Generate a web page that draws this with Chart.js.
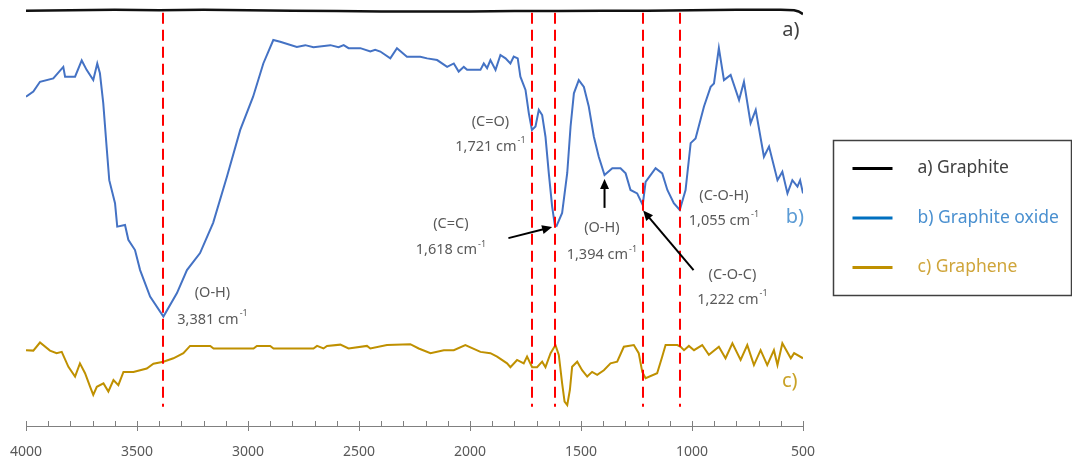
<!DOCTYPE html>
<html>
<head>
<meta charset="utf-8">
<title>FTIR spectra</title>
<script src="https://cdn.jsdelivr.net/npm/chart.js@4.4.0/dist/chart.umd.min.js"></script>
<style>
  html, body { margin: 0; padding: 0; background: #fff; }
  #wrap { width: 1072px; height: 462px; position: relative; }
</style>
</head>
<body>
<div id="wrap"><canvas id="ftirChart"></canvas></div>
<script>
// wavenumber (cm-1) / transmittance (a.u., stacked offsets)
const graphiteWn = [4000, 3800, 3600, 3400, 3200, 3000, 2800, 2600, 2400, 2200, 2000, 1800, 1600, 1400, 1200, 1000, 800, 600, 540, 520, 500];
const graphiteT = [97.5, 97.6, 97.7, 97.6, 97.7, 97.6, 97.5, 97.4, 97.3, 97.3, 97.3, 97.4, 97.4, 97.5, 97.5, 97.6, 97.7, 97.7, 97.6, 97.3, 96.7];

const oxideWn = [4000, 3967, 3937, 3877, 3832, 3824, 3779, 3749, 3727, 3697, 3679, 3667, 3652, 3637, 3625, 3599, 3589, 3554, 3539, 3509,
  3486, 3441, 3381, 3320, 3275, 3216, 3157, 3095, 3035, 2977, 2931, 2886, 2855, 2780, 2742, 2705, 2629, 2592, 2569, 2547,
  2494, 2449, 2427, 2404, 2359, 2329, 2284, 2224, 2193, 2148, 2103, 2073, 2051, 2028, 2013, 1953, 1938, 1923, 1908, 1885,
  1863, 1840, 1818, 1803, 1785, 1773, 1750, 1735, 1721, 1705, 1690, 1675, 1660, 1645, 1630, 1618, 1610,
  1585, 1562, 1547, 1532, 1510, 1487, 1465, 1442, 1420, 1394, 1359, 1322, 1299, 1277, 1247, 1222, 1209, 1164, 1134, 1111,
  1082, 1055, 1029, 1006, 984, 946, 916, 901, 879, 856, 826, 788, 766, 736, 713, 676, 653, 615, 593, 570, 548, 525, 513, 500];
const oxideT = [77.3, 78.5, 80.8, 81.6, 84.3, 82.0, 82.0, 85.8, 83.6, 81.2, 85.1, 82.8, 75.8, 65.6, 57.7, 52.3, 46.8, 47.2, 43.7, 41.3,
  36.6, 30.4, 25.7, 31.2, 36.6, 40.6, 47.7, 58.5, 69.5, 77.3, 85.1, 90.6, 90.2, 89.0, 89.4, 88.9, 89.4, 88.9, 89.4, 88.7,
  88.7, 87.9, 88.3, 87.9, 86.3, 88.7, 86.7, 86.7, 86.3, 85.9, 84.3, 85.1, 83.2, 84.3, 83.6, 83.6, 85.1, 84.0, 85.9, 83.6,
  87.1, 86.3, 85.1, 86.7, 86.3, 82.0, 78.9, 73.4, 69.5, 70.3, 74.2, 73.0, 67.9, 59.3, 51.5, 47.2, 47.0,
  50.0, 59.4, 70.3, 78.1, 81.2, 79.6, 75.0, 67.9, 63.2, 58.9, 60.5, 60.5, 59.3, 55.4, 54.6, 51.9, 57.3, 60.5, 59.3, 55.4,
  52.3, 50.7, 55.4, 66.4, 67.5, 75.0, 79.6, 80.4, 88.7, 81.2, 82.4, 76.5, 80.8, 71.1, 74.2, 63.2, 65.6, 57.7, 59.7, 54.6, 57.7, 56.2, 57.7, 54.6];

const grapheneWn = [4000, 3967, 3937, 3892, 3862, 3839, 3809, 3779, 3757, 3734, 3711, 3697, 3681, 3651, 3629, 3606, 3584, 3561, 3516, 3456,
  3426, 3381, 3336, 3291, 3261, 3170, 3155, 2975, 2960, 2900, 2885, 2705, 2689, 2660, 2644, 2584, 2547, 2464, 2449, 2374,
  2269, 2231, 2178, 2118, 2073, 2021, 1953, 1908, 1878, 1833, 1818, 1788, 1758, 1743, 1720, 1698, 1675, 1660, 1637, 1615,
  1600, 1585, 1574, 1562, 1550, 1540, 1517, 1495, 1472, 1450, 1427, 1397, 1367, 1337, 1307, 1262, 1240, 1224, 1209, 1157,
  1134, 1119, 1066, 1051, 1036, 1014, 991, 954, 924, 879, 849, 818, 781, 751, 721, 691, 661, 631, 615, 593, 555, 540, 500];
const grapheneT = [17.8, 17.7, 19.6, 17.7, 17.1, 17.4, 13.9, 11.6, 14.7, 12.4, 9.2, 7.3, 9.2, 10.0, 8.1, 10.8, 9.6, 12.7, 12.7, 13.5,
  14.6, 15.1, 15.9, 17.1, 18.8, 18.8, 18.2, 18.2, 18.8, 18.8, 18.2, 18.2, 18.8, 18.2, 18.8, 19.1, 18.2, 18.8, 18.2, 19.0,
  19.2, 18.2, 17.1, 17.8, 17.8, 19.0, 17.4, 17.1, 16.3, 14.7, 13.8, 15.5, 14.7, 16.3, 13.8, 13.8, 15.1, 13.8, 17.1, 19.0,
  16.7, 10.0, 5.7, 4.9, 8.5, 13.9, 15.1, 13.1, 11.6, 12.7, 12.0, 13.1, 14.7, 15.1, 18.6, 19.0, 17.1, 12.7, 11.2, 12.4,
  16.3, 19.0, 19.0, 18.6, 17.8, 18.8, 17.8, 19.0, 16.7, 18.6, 15.9, 19.4, 15.5, 19.0, 14.3, 17.8, 14.3, 17.8, 14.3, 19.4, 15.9, 17.1, 15.9];

const xLabels = [4000, 3500, 3000, 2500, 2000, 1500, 1000, 500];
const markedPeaks = [3381, 1721, 1618, 1222, 1055];

const FONT = '"Noto Sans", sans-serif';
const TEXT_GREY = '#595959';

function toPoints(xs, ys) {
  return xs.map((x, i) => ({ x: x, y: ys[i] }));
}

// peak labels: group name, wavenumber line, optional arrow (x1,y1 -> x2,y2) in data units
const notes = [
  { peak: 3381, group: '(O-H)', x: 3160, y1: 31.2, y2: 24.9 },
  { peak: 1721, group: '(C=O)', x: 1908, y1: 71.4, y2: 65.6 },
  { peak: 1618, group: '(C=C)', x: 2086, y1: 47.4, y2: 41.3, arrow: [1827, 44.1, 1630, 46.7] },
  { peak: 1394, group: '(O-H)', x: 1406, y1: 46.4, y2: 40.1, arrow: [1394, 51.2, 1394, 58.0] },
  { peak: 1222, group: '(C-O-C)', x: 818, y1: 35.4, y2: 29.6, arrow: [993, 36.6, 1220, 50.6] },
  { peak: 1055, group: '(C-O-H)', x: 856, y1: 54.0, y2: 48.2 }
];

const seriesTags = [
  { text: 'a)', x: 555, y: 93.0, color: '#404040' },
  { text: 'b)', x: 537, y: 48.9, color: '#5B9BD5' },
  { text: 'c)', x: 560, y: 10.4, color: '#C9A227' }
];

function drawArrow(ctx, x1, y1, x2, y2) {
  const ang = Math.atan2(y2 - y1, x2 - x1);
  const len = 10, half = 4.5;
  ctx.beginPath();
  ctx.moveTo(x1, y1);
  ctx.lineTo(x2 - Math.cos(ang) * len * 0.8, y2 - Math.sin(ang) * len * 0.8);
  ctx.stroke();
  ctx.beginPath();
  ctx.moveTo(x2, y2);
  ctx.lineTo(x2 - Math.cos(ang) * len + Math.sin(ang) * half, y2 - Math.sin(ang) * len - Math.cos(ang) * half);
  ctx.lineTo(x2 - Math.cos(ang) * len - Math.sin(ang) * half, y2 - Math.sin(ang) * len + Math.cos(ang) * half);
  ctx.closePath();
  ctx.fill();
}

const spectrumExtras = {
  id: 'spectrumExtras',
  afterDatasetsDraw(chart) {
    const { ctx, scales: { x, y }, chartArea } = chart;
    ctx.save();

    // dashed marker lines at the assigned peaks
    ctx.strokeStyle = '#FF0000';
    ctx.lineWidth = 2;
    ctx.setLineDash([11, 6]);
    markedPeaks.forEach(p => {
      const px = Math.round(x.getPixelForValue(p));
      ctx.beginPath();
      ctx.moveTo(px, y.getPixelForValue(97.0));
      ctx.lineTo(px, y.getPixelForValue(4.5));
      ctx.stroke();
    });
    ctx.setLineDash([]);

    // axis tick marks: minor every 100, major every 500
    ctx.strokeStyle = '#7F7F7F';
    ctx.lineWidth = 1;
    const base = chartArea.bottom;
    for (let v = 500; v <= 4000; v += 100) {
      const px = Math.round(x.getPixelForValue(v)) + 0.5;
      ctx.beginPath();
      ctx.moveTo(px, base - 5);
      ctx.lineTo(px, xLabels.includes(v) ? base + 5 : base);
      ctx.stroke();
    }

    // peak annotations
    ctx.fillStyle = TEXT_GREY;
    ctx.textBaseline = 'middle';
    notes.forEach(n => {
      const cx = x.getPixelForValue(n.x);
      ctx.font = '14.5px ' + FONT;
      ctx.textAlign = 'center';
      ctx.fillText(n.group, cx, y.getPixelForValue(n.y1));
      const main = n.peak.toLocaleString('en-US') + ' cm';
      const w1 = ctx.measureText(main).width;
      ctx.font = '9px ' + FONT;
      const w2 = ctx.measureText('-1').width;
      const x0 = cx - (w1 + w2 + 1) / 2;
      const cy = y.getPixelForValue(n.y2);
      ctx.textAlign = 'left';
      ctx.font = '14.5px ' + FONT;
      ctx.fillText(main, x0, cy);
      ctx.font = '9px ' + FONT;
      ctx.fillText('-1', x0 + w1 + 1, cy - 6);
    });

    ctx.strokeStyle = '#000000';
    ctx.fillStyle = '#000000';
    ctx.lineWidth = 2;
    notes.filter(n => n.arrow).forEach(n => {
      const a = n.arrow;
      drawArrow(ctx, x.getPixelForValue(a[0]), y.getPixelForValue(a[1]),
        x.getPixelForValue(a[2]), y.getPixelForValue(a[3]));
    });

    // series tags at the right end of each trace
    ctx.font = '20px ' + FONT;
    ctx.textAlign = 'center';
    seriesTags.forEach(t => {
      ctx.fillStyle = t.color;
      ctx.fillText(t.text, x.getPixelForValue(t.x), y.getPixelForValue(t.y));
    });

    ctx.restore();
  }
};

// boxed legend to the right of the plot
const boxedLegend = {
  id: 'boxedLegend',
  afterDraw(chart) {
    const { ctx, chartArea } = chart;
    const left = chartArea.right + 30.5, top = 140.5;
    const w = chart.width - left - 0.5, h = 155;
    ctx.save();
    ctx.strokeStyle = '#404040';
    ctx.lineWidth = 1.5;
    ctx.strokeRect(left, top, w, h);
    ctx.font = '17.5px ' + FONT;
    ctx.textBaseline = 'middle';
    ctx.textAlign = 'left';
    chart.data.datasets.forEach((ds, i) => {
      const cy = top + 28 + i * 49.5;
      ctx.strokeStyle = ds.legendColor;
      ctx.lineWidth = 3;
      ctx.beginPath();
      ctx.moveTo(left + 19, cy);
      ctx.lineTo(left + 59, cy);
      ctx.stroke();
      ctx.fillStyle = ds.legendText;
      ctx.fillText(ds.label, left + 84, cy);
    });
    ctx.restore();
  }
};

Chart.defaults.font.family = FONT;

new Chart(document.getElementById('ftirChart'), {
  type: 'line',
  data: {
    datasets: [
      {
        label: 'a) Graphite',
        data: toPoints(graphiteWn, graphiteT),
        borderColor: '#111111',
        borderWidth: 2.5,
        legendColor: '#000000',
        legendText: '#404040'
      },
      {
        label: 'b) Graphite oxide',
        data: toPoints(oxideWn, oxideT),
        borderColor: '#4472C4',
        borderWidth: 2,
        legendColor: '#0070C0',
        legendText: '#4A90D0'
      },
      {
        label: 'c) Graphene',
        data: toPoints(grapheneWn, grapheneT),
        borderColor: '#BF9000',
        borderWidth: 2,
        legendColor: '#BF9000',
        legendText: '#CFA53A'
      }
    ]
  },
  options: {
    responsive: true,
    maintainAspectRatio: false,
    animation: false,
    layout: { padding: { left: 26, right: 269, top: 0, bottom: 0 } },
    elements: { point: { radius: 0 }, line: { tension: 0 } },
    plugins: {
      legend: { display: false },
      tooltip: { enabled: false }
    },
    scales: {
      x: {
        type: 'linear',
        reverse: true,
        min: 500,
        max: 4000,
        grid: { display: false },
        border: { display: true, color: '#808080', width: 1 },
        ticks: {
          stepSize: 100,
          autoSkip: false,
          maxRotation: 0,
          padding: 10,
          color: TEXT_GREY,
          font: { size: 14 },
          callback: v => xLabels.includes(v) ? String(v) : ''
        },
        afterFit(scale) {
          scale.height = 36;
          scale.paddingLeft = 0;
          scale.paddingRight = 0;
        }
      },
      y: { display: false, min: 0, max: 100 }
    }
  },
  plugins: [spectrumExtras, boxedLegend]
});
</script>
</body>
</html>
